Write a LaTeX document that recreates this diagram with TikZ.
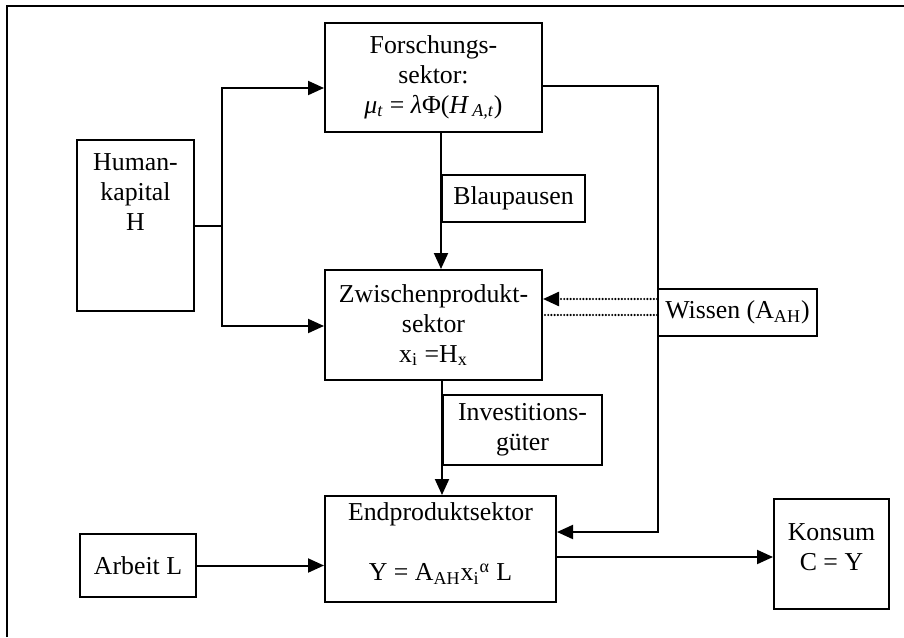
\documentclass[tikz,border=0pt]{standalone}
\usepackage{fontspec}
\setmainfont{Liberation Serif}
\usepackage{tikz}
\usetikzlibrary{arrows.meta,positioning}

\begin{document}
\begin{tikzpicture}[x=0.5pt,y=-0.5pt,
  font=\fontsize{12.9}{15}\selectfont,
  box/.style={draw,line width=1pt,inner sep=0pt,align=center},
  linie/.style={line width=1pt},
  pfeil/.style={line width=1pt,-{Triangle[length=8pt,width=7pt]}},
  punkt/.style={line width=1.2pt,line cap=round,dash pattern=on 0pt off 1.6pt}]
  \useasboundingbox (0,0) rectangle (904,637);
  \draw[line width=0.8pt] (7,637) -- (7,6) -- (904,6); % Rahmen nur oben und links

  \node[box,minimum width=108.5pt,minimum height=54.5pt] (forsch) at (433.5,77.5)
    {Forschungs-\\sektor:\\{\itshape μ\textsubscript{t}} = {\itshape λ}Φ({\itshape H\,\textsubscript{A,t}})};
  \node[box,minimum width=58.5pt,minimum height=85.5pt] (human) at (135.5,225.5)
    {Human-\\kapital\\H\\[18pt]\mbox{}};
  \node[box,minimum width=71.5pt,minimum height=23.5pt] (blau) at (513.5,198.5) {Blaupausen};
  \node[box,minimum width=108.5pt,minimum height=55pt] (zwisch) at (433.5,325)
    {Zwischenprodukt-\\sektor\\x\textsubscript{i} =H\textsubscript{x}};
  \node[box,minimum width=79.5pt,minimum height=23.5pt] (wissen) at (737.5,312.5)
    {Wissen (A\textsubscript{AH})};
  \node[box,minimum width=79.5pt,minimum height=35pt] (invest) at (522.5,430)
    {Investitions-\\güter};
  \node[box,minimum width=115.5pt,minimum height=53pt] (endp) at (440.5,549)
    {Endproduktsektor\\[15pt]Y = A\textsubscript{AH}x\textsubscript{i}\textsuperscript{α} L\\[-8pt]\mbox{}};
  \node[box,minimum width=58pt,minimum height=31.5pt] (arbeit) at (138,565.5) {Arbeit L};
  \node[box,minimum width=57.5pt,minimum height=55pt] (konsum) at (831.5,554)
    {Konsum\\C = Y\\[-8pt]\mbox{}};

  \coordinate (knick) at (222,225.5);
  \coordinate (ecke) at (658,532);

  \draw[linie] (human.east) -- (knick);
  \draw[pfeil] (knick) |- ([yshift=-5.25pt]forsch.west);
  \draw[pfeil] (knick) |- ([yshift=-0.5pt]zwisch.west);
  \draw[pfeil] (forsch.south -| blau.west) -- (zwisch.north -| blau.west);
  \draw[pfeil] (zwisch.south -| invest.west) -- (endp.north -| invest.west);
  \draw[pfeil] ([yshift=-4.25pt]forsch.east) -| (ecke) -- (ecke -| endp.east);
  \draw[punkt,-{Triangle[length=8pt,width=7pt,line cap=butt]}] ([yshift=6.75pt]wissen.west) -- ([yshift=6.75pt]wissen.west -| zwisch.east);
  \draw[punkt] ([yshift=-1.25pt]wissen.west) -- ([yshift=-1.25pt]wissen.west -| zwisch.east);
  \draw[pfeil] (arbeit.east) -- (arbeit.east -| endp.west);
  \draw[pfeil] ([yshift=-4pt]endp.east) -- ([yshift=-4pt]endp.east -| konsum.west);
\end{tikzpicture}
\end{document}
